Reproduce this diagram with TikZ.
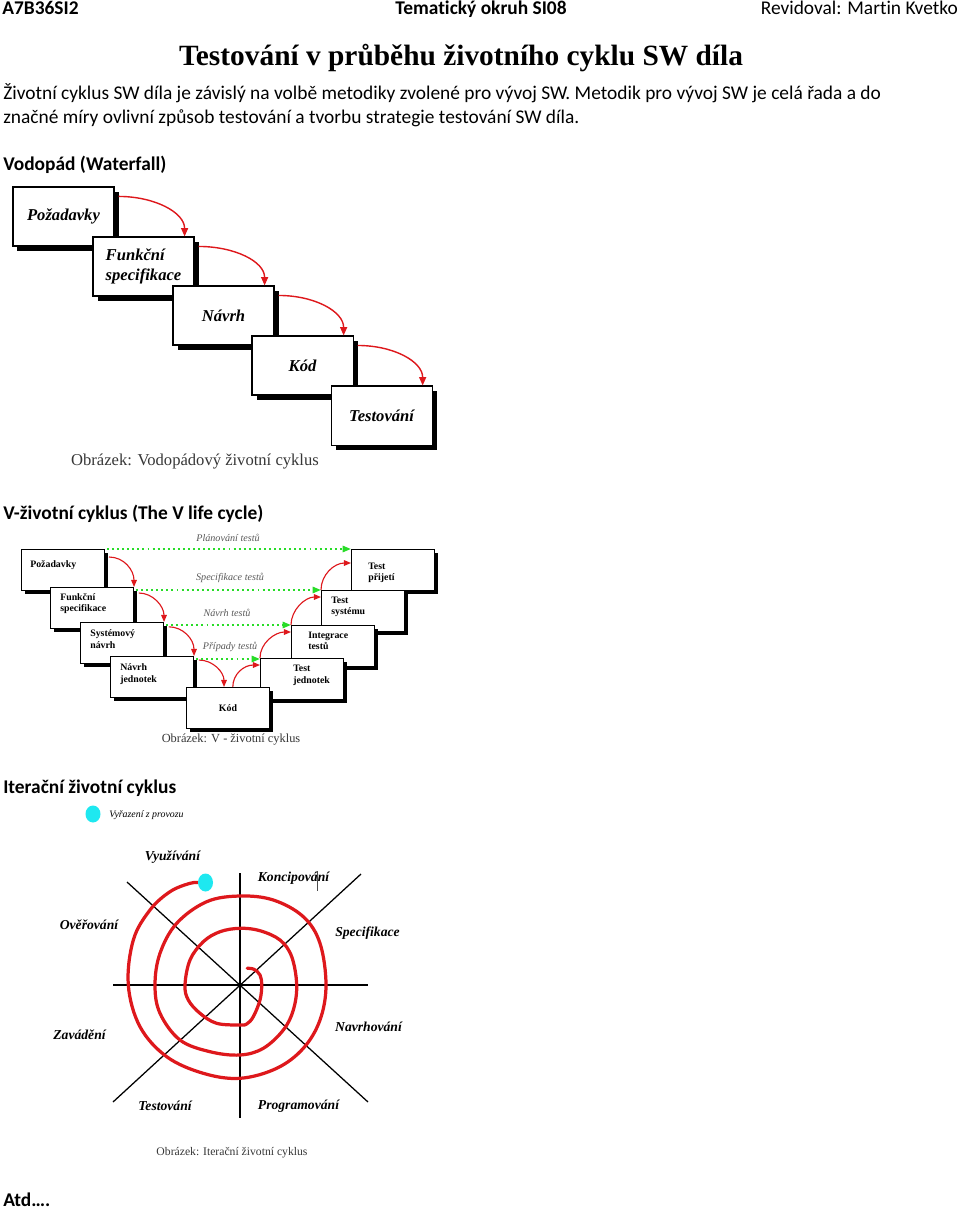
\documentclass[tikz,border=0pt]{standalone}
\usepackage{fontspec}
\setmainfont{Carlito}[Ligatures=NoCommon]
\newfontfamily\figfont{Liberation Serif}
\usetikzlibrary{arrows.meta,shadows,positioning}

\definecolor{arcred}{RGB}{222,24,28}
\definecolor{plangreen}{RGB}{40,220,40}
\definecolor{dotcyan}{RGB}{30,232,240}
\definecolor{capgray}{RGB}{55,55,55}

\begin{document}
\begin{tikzpicture}[
  x=0.025cm, y=-0.025cm,
  doctext/.style={inner sep=0pt, font=\fontsize{13.8}{16}\selectfont},
  heading/.style={inner sep=0pt, font=\fontsize{13.8}{16}\selectfont\bfseries},
  titletext/.style={inner sep=0pt, font=\figfont\bfseries\fontsize{20.9}{24}\selectfont},
  wfbox/.style={draw, fill=white, line width=0.8pt, minimum width=2.525cm, minimum height=1.475cm, align=left, font=\figfont\bfseries\itshape\fontsize{11.8}{14}\selectfont, drop shadow={fill=black, opacity=1, shadow xshift=3.2pt, shadow yshift=-3.6pt}},
  wfarrow/.style={color=arcred, line width=1pt, -{Triangle[length=6pt,width=5pt]}},
  vbox/.style={draw, fill=white, line width=0.7pt, minimum width=2.075cm, minimum height=1.025cm, anchor=north west, drop shadow={fill=black, opacity=1, shadow xshift=2.8pt, shadow yshift=-2.6pt}},
  vtext/.style={anchor=west, align=left, inner sep=0pt, font=\figfont\bfseries\fontsize{7}{8.2}\selectfont},
  varrow/.style={color=arcred, line width=0.8pt, -{Triangle[length=5pt,width=4pt]}},
  testarrow/.style={color=plangreen, line width=1.4pt, dash pattern=on 1.4pt off 2.2pt, -{Triangle[length=6pt,width=4.5pt]}},
  testlabel/.style={inner sep=0pt, text=black!65, font=\figfont\itshape\fontsize{7.2}{8}\selectfont},
  caption/.style={inner sep=0pt, text=capgray},
  phase/.style={inner sep=0pt, font=\figfont\bfseries\itshape\fontsize{9.7}{11}\selectfont},
  axisline/.style={line width=0.9pt},
  spiralline/.style={draw=arcred, line width=2.3pt, line cap=round}
]
\useasboundingbox (0,0) rectangle (960,1209);
\fill[white] (0,0) rectangle (960,1209);

% page header
\node[heading, anchor=base west] (course) at (2,15) {A7B36SI2};
\node[heading, anchor=base] (topic) at (481,15) {Tematický okruh SI08};
\node[doctext, anchor=base east] (reviewer) at (958,15) {Revidoval: Martin Kvetko};
\node[titletext, anchor=base] (title) at (461,66) {Testování v průběhu životního cyklu SW díla};
\node[doctext, anchor=base west] (intro1) at (3,99.5) {Životní cyklus SW díla je závislý na volbě metodiky zvolené pro vývoj SW. Metodik pro vývoj SW je celá řada a do};
\node[doctext, anchor=base west] (intro2) at (3,123.5) {značné míry ovlivní způsob testování a tvorbu strategie testování SW díla.};

% waterfall
\node[heading, anchor=base west] (hwf) at (3,170.7) {Vodopád (Waterfall)};
\node[wfbox] (w1) at (63.5,216.5) {Požadavky};
\node[wfbox] (w2) at ([xshift=2cm,yshift=-1.25cm]w1.center) {Funkční\\specifikace};
\node[wfbox] (w3) at ([xshift=2cm,yshift=-1.225cm]w2.center) {Návrh};
\node[wfbox] (w4) at ([xshift=1.975cm,yshift=-1.25cm]w3.center) {Kód};
\node[wfbox] (w5) at ([xshift=1.975cm,yshift=-1.25cm]w4.center) {Testování};
\draw[wfarrow] ([xshift=0.1cm,yshift=-0.25cm]w1.north east) .. controls +(36,0) and +(0,-24) .. ([xshift=-0.25cm]w2.north east);
\draw[wfarrow] ([xshift=0.1cm,yshift=-0.25cm]w2.north east) .. controls +(36,0) and +(0,-24) .. ([xshift=-0.25cm]w3.north east);
\draw[wfarrow] ([xshift=0.1cm,yshift=-0.25cm]w3.north east) .. controls +(36,0) and +(0,-24) .. ([xshift=-0.25cm]w4.north east);
\draw[wfarrow] ([xshift=0.1cm,yshift=-0.25cm]w4.north east) .. controls +(36,0) and +(0,-24) .. ([xshift=-0.25cm]w5.north east);
\node[caption, font=\figfont\fontsize{11.8}{13}\selectfont] (wfcap) at (195,462) {Obrázek: Vodopádový životní cyklus};

% V model
\node[heading, anchor=base west] (hv) at (3,519) {V-životní cyklus (The V life cycle)};
\node[vbox] (v1) at (21,549) {};
\node[vbox] (v2) at (50,587) {};
\node[vbox] (v3) at (80,622) {};
\node[vbox] (v4) at (110,656) {};
\node[vbox] (v9) at (351,549) {};
\node[vbox] (v8) at (321,590) {};
\node[vbox] (v7) at (291,625) {};
\node[vbox] (v6) at (260,658) {};
\node[vbox] (v5) at (186,687) {};
\node[vtext] (t1) at ([xshift=0.225cm,yshift=-0.4cm]v1.north west) {Požadavky};
\node[vtext] (t2) at ([xshift=0.25cm,yshift=-0.4125cm]v2.north west) {Funkční\\specifikace};
\node[vtext] (t3) at ([xshift=0.25cm,yshift=-0.425cm]v3.north west) {Systémový\\návrh};
\node[vtext] (t4) at ([xshift=0.25cm,yshift=-0.45cm]v4.north west) {Návrh\\jednotek};
\node[vtext, anchor=center] (t5) at (v5.center) {Kód};
\node[vtext] (t6) at ([xshift=0.825cm,yshift=-0.4375cm]v6.north west) {Test\\jednotek};
\node[vtext] (t7) at ([xshift=0.425cm,yshift=-0.4cm]v7.north west) {Integrace\\testů};
\node[vtext] (t8) at ([xshift=0.25cm,yshift=-0.425cm]v8.north west) {Test\\systému};
\node[vtext] (t9) at ([xshift=0.425cm,yshift=-0.6cm]v9.north west) {Test\\přijetí};
\draw[varrow] ([xshift=0.1cm,yshift=-0.2cm]v1.north east) .. controls +(15,0) and +(0,-17) .. (v2.north east);
\draw[varrow] ([xshift=0.12cm,yshift=-0.15cm]v2.north east) .. controls +(14,0) and +(0,-16) .. (v3.north east);
\draw[varrow] ([xshift=0.12cm,yshift=-0.12cm]v3.north east) .. controls +(14,0) and +(0,-17) .. (v4.north east);
\draw[varrow] ([xshift=0.12cm,yshift=-0.1cm]v4.north east) .. controls +(14,0) and +(0,-15) .. ([xshift=-0.1cm]v5.north);
\draw[varrow] ([xshift=0.12cm]v5.north) .. controls +(0,-13) and +(-16,0) .. ([yshift=-0.175cm]v6.north west);
\draw[varrow] (v6.north west) .. controls +(0,-15) and +(-16,0) .. ([yshift=-0.175cm]v7.north west);
\draw[varrow] (v7.north west) .. controls +(0,-15) and +(-16,0) .. ([yshift=-0.175cm]v8.north west);
\draw[varrow] (v8.north west) .. controls +(0,-15) and +(-17,0) .. ([yshift=-0.35cm]v9.north west);
\coordinate (g1) at ([xshift=0.05cm]v1.north east);
\coordinate (g2) at ([xshift=0.05cm,yshift=-0.075cm]v2.north east);
\coordinate (g3) at ([xshift=0.05cm,yshift=-0.075cm]v3.north east);
\coordinate (g4) at ([xshift=0.05cm,yshift=-0.075cm]v4.north east);
\draw[testarrow] (g1) -- (g1 -| v9.west);
\draw[testarrow] (g2) -- (g2 -| v8.west);
\draw[testarrow] (g3) -- (g3 -| v7.west);
\draw[testarrow] (g4) -- (g4 -| v6.west);
\node[testlabel] (lplan) at (228,538) {Plánování testů};
\node[testlabel] (lspec) at (230,578) {Specifikace testů};
\node[testlabel] (lnavrh) at (227,613) {Návrh testů};
\node[testlabel] (lpripady) at (230,647) {Případy testů};
\node[caption, font=\figfont\fontsize{8.8}{10}\selectfont] (vcap) at (231,740) {Obrázek: V - životní cyklus};

% iterative (spiral) cycle
\node[heading, anchor=base west] (hit) at (3,793.7) {Iterační životní cyklus};
\fill[dotcyan] (93,814) ellipse [x radius=7.5, y radius=8.5];
\node[inner sep=0pt, font=\figfont\itshape\fontsize{7}{8}\selectfont] (retire) at (146.5,815) {Vyřazení z provozu};
\coordinate (sc) at (240,985);
\draw[axisline] (113,985) -- (368,985);
\draw[axisline] (240,873) -- (240,1118);
\draw[axisline] (127,882) -- (368,1102);
\draw[axisline] (113,1102) -- (361,874);
\draw[spiralline] plot[smooth, tension=0.6] coordinates {
  (247.3,968.3) (254,969.3) (260,975) (261.7,985) (260,1000) (253.3,1016.7) (246.7,1024) (240,1025)
  (216.7,1023.3) (200,1013.3) (188.3,1000) (185,985) (190,960) (203.3,941.7) (220,931.7) (240,928.3)
  (260,930.7) (280,940) (291.7,956.7) (296.7,985) (293.3,1010) (283.3,1030) (263.3,1048.3) (240,1055)
  (210,1051.7) (180,1040) (160,1013.3) (155,985) (160,953.3) (176.7,923.3) (206.7,901.7) (240,896)
  (273.3,900) (303.3,916.7) (320,943.3) (326,985) (320,1020) (303.3,1048.3) (276.7,1068.3) (240,1078.3)
  (203.3,1073.3) (166.7,1056.7) (140,1026.7) (128.3,985) (133.3,940) (150,910) (170,891.7) (190,883.3) (200,882.7)};
\fill[dotcyan] (205.5,882.5) ellipse [x radius=7.5, y radius=9];
\node[phase] (use) at (172.5,857) {Využívání};
\node[phase] (concept) at (293.5,878) {Koncipování};
\draw[black!70, line width=0.5pt] (317,871) -- (317,891);
\node[phase] (spec) at (367.5,933) {Specifikace};
\node[phase] (verify) at (89,925) {Ověřování};
\node[phase] (deploy) at (79.5,1035) {Zavádění};
\node[phase] (design) at (368.5,1027) {Navrhování};
\node[phase] (test) at (165,1106) {Testování};
\node[phase] (program) at (298.5,1106) {Programování};
\node[caption, font=\figfont\fontsize{8.3}{9.5}\selectfont] (itcap) at (232,1153) {Obrázek: Iterační životní cyklus};

\node[heading, anchor=base west] (hatd) at (3,1206) {Atd….};
\end{tikzpicture}
\end{document}
